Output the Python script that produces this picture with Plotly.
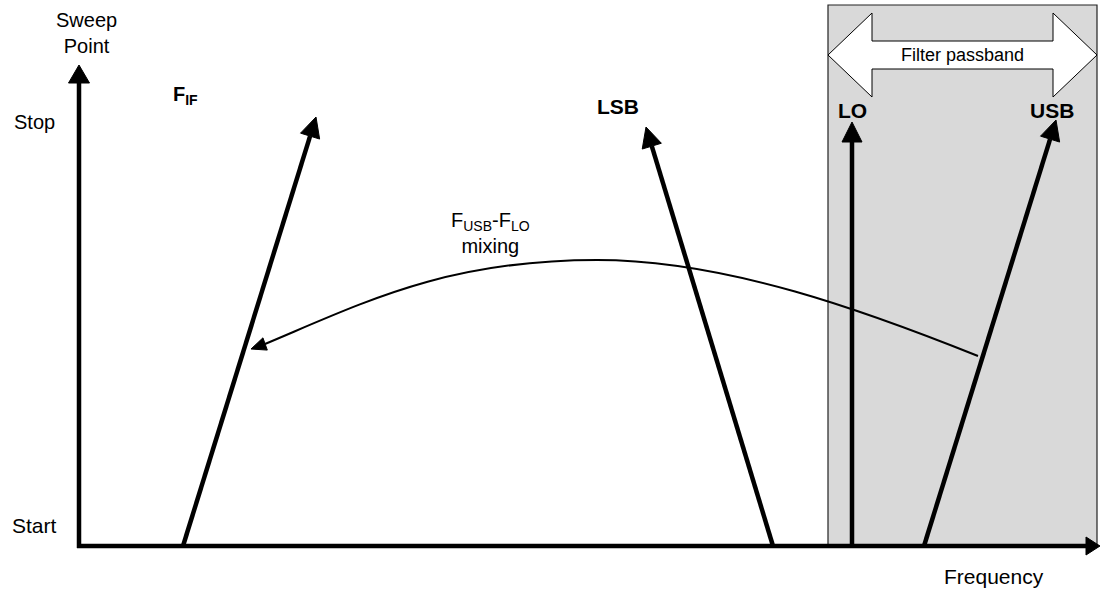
import math
import plotly.graph_objects as go

# ---- data (frequency units on x, sweep units on y; origin = Start / 0 Hz) ----
axis_x_end = 1021
axis_y_end = 481

line_names = ["F_IF", "LSB", "LO", "USB"]
line_start_f = [104, 694, 773, 845]      # frequency at sweep Start
line_stop_f = [237, 567, 773, 977]       # frequency at sweep Stop
line_stop_s = [429, 419, 424, 426]       # sweep value at arrow tip

passband_f = [749, 1018]
passband_top = 541
passband_arrow_s = 491

# F_USB - F_LO mixing curve: two cubic Bezier segments from the apex
mix_apex = (518, 286)
mix_right_ctrl_f = [648, 789, 899]
mix_right_ctrl_s = [286, 234, 190]
mix_left_ctrl_f = [368, 286, 186]
mix_left_ctrl_s = [286, 244, 202]
mix_tip = (172, 197)

labels = ["Sweep<br>Point", "Stop", "Start", "Frequency", "<b>F<sub>IF</sub></b>",
          "<b>LSB</b>", "<b>LO</b>", "<b>USB</b>", "F<sub>USB</sub>-F<sub>LO</sub><br>mixing",
          "Filter passband"]
label_f = [7, -45, -45, 915, 106, 539, 773, 973, 411, 883]
label_s = [513, 424, 21, -30, 451, 440, 436, 436, 313, 491]
label_size = [20, 20, 21, 21, 20, 21, 21, 21, 20, 18]

FONT = "Liberation Sans, Arial, sans-serif"

shapes = []


def head(tip, base_from, length, width):
    dx, dy = tip[0] - base_from[0], tip[1] - base_from[1]
    d = math.hypot(dx, dy)
    ux, uy = dx / d, dy / d
    bx, by = tip[0] - ux * length, tip[1] - uy * length
    px, py = -uy * width / 2, ux * width / 2
    path = f"M {tip[0]},{tip[1]} L {bx+px},{by+py} L {bx-px},{by-py} Z"
    return path, (bx, by)


def arrow(p0, p1, lw, hl, hw):
    path, base = head(p1, p0, hl, hw)
    shapes.append(dict(type="line", x0=p0[0], y0=p0[1], x1=base[0], y1=base[1],
                       line=dict(color="black", width=lw), layer="above"))
    shapes.append(dict(type="path", path=path, fillcolor="black",
                       line=dict(color="black", width=1), layer="above"))


# passband box
shapes.append(dict(type="rect", x0=passband_f[0], x1=passband_f[1], y0=0, y1=passband_top,
                   fillcolor="#d9d9d9", line=dict(color="#222222", width=1.2), layer="below"))

# double arrow (filter passband)
L, R = passband_f
c = passband_arrow_s
hl, sh, hh = 44, 14, 42
dpath = (f"M {L},{c} L {L+hl},{c+hh} L {L+hl},{c+sh} L {R-hl},{c+sh} L {R-hl},{c+hh} "
         f"L {R},{c} L {R-hl},{c-hh} L {R-hl},{c-sh} L {L+hl},{c-sh} L {L+hl},{c-hh} Z")
shapes.append(dict(type="path", path=dpath, fillcolor="white",
                   line=dict(color="black", width=1), layer="above"))

# mixing curve
def bez(ctrl_f, ctrl_s):
    pts = " ".join(f"{f},{s}" for f, s in zip(ctrl_f, ctrl_s))
    return f"M {mix_apex[0]},{mix_apex[1]} C {pts}"

for cf, cs in ((mix_right_ctrl_f, mix_right_ctrl_s), (mix_left_ctrl_f, mix_left_ctrl_s)):
    shapes.append(dict(type="path", path=bez(cf, cs), line=dict(color="black", width=2),
                       fillcolor="rgba(0,0,0,0)", layer="above"))
mpath, _ = head(mix_tip, (mix_left_ctrl_f[-1], mix_left_ctrl_s[-1]), 15, 13)
shapes.append(dict(type="path", path=mpath, fillcolor="black",
                   line=dict(color="black", width=1), layer="above"))

# axes
arrow((-2, 0), (axis_x_end, 0), 4.5, 14, 18)
arrow((0, -2), (0, axis_y_end), 4.5, 18, 21)

# sweep lines
for f0, f1, s1 in zip(line_start_f, line_stop_f, line_stop_s):
    arrow((f0, 0), (f1, s1), 4.5, 20, 20)

fig = go.Figure()
fig.add_trace(go.Scatter(x=[0], y=[0], mode="markers", marker=dict(opacity=0),
                         hoverinfo="skip", showlegend=False))

annotations = [dict(x=x, y=y, text=t, showarrow=False, xref="x", yref="y",
                    font=dict(family=FONT, size=sz, color="black"), align="center")
               for t, x, y, sz in zip(labels, label_f, label_s, label_size)]

fig.update_layout(
    width=1101, height=591,
    margin=dict(l=0, r=0, t=0, b=0),
    paper_bgcolor="white", plot_bgcolor="white",
    shapes=shapes, annotations=annotations,
    xaxis=dict(range=[-79, 1022], visible=False, fixedrange=True),
    yaxis=dict(range=[-45, 546], visible=False, fixedrange=True),
    showlegend=False,
)
fig.write_html("out.html", config={"displayModeBar": False},
               post_script="document.body.style.margin='0';document.body.style.padding='0';"
                           "document.body.style.overflow='hidden';")
